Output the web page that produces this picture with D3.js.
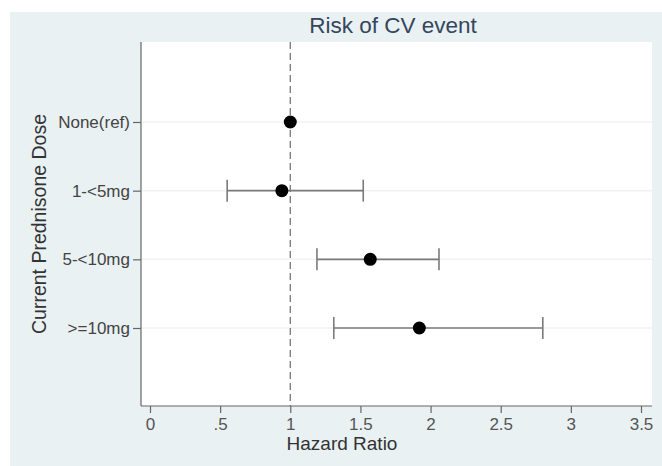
<!DOCTYPE html>
<html>
<head>
<meta charset="utf-8">
<script src="https://cdn.jsdelivr.net/npm/d3@7"></script>
<style>
  html, body { margin: 0; padding: 0; background: #ffffff; }
  svg { display: block; font-family: "Liberation Sans", Arial, sans-serif; }
</style>
</head>
<body>
<svg id="chart" width="662" height="466"></svg>
<script>
// Prednisone dose groups and hazard ratios with 95% confidence limits
const categories = ["None(ref)", "1-<5mg", "5-<10mg", ">=10mg"];
const hazardRatio = [1.0, 0.94, 1.57, 1.92];
const lowerCI = [null, 0.55, 1.19, 1.31];
const upperCI = [null, 1.52, 2.06, 2.80];
const xTickValues = [0, 0.5, 1, 1.5, 2, 2.5, 3, 3.5];
const xTickLabels = ["0", ".5", "1", "1.5", "2", "2.5", "3", "3.5"];
const referenceValue = 1;

const rows = categories.map((c, i) => ({
  cat: c, hr: hazardRatio[i], lo: lowerCI[i], hi: upperCI[i]
}));

const svg = d3.select("#chart");

// outer graph region and white plot region
const plot = { left: 141, right: 652, top: 42, bottom: 406 };

svg.append("rect")
  .attr("x", 10).attr("y", 12).attr("width", 652).attr("height", 454)
  .attr("fill", "#e9f1f3");

svg.append("rect")
  .attr("x", plot.left).attr("y", plot.top)
  .attr("width", plot.right - plot.left).attr("height", plot.bottom - plot.top)
  .attr("fill", "#ffffff");

const x = d3.scaleLinear().domain([0, 3.5]).range([150, 641]);
const y = d3.scalePoint().domain(categories).range([122, 328]).padding(0);

// faint horizontal grid at each dose group
svg.append("g")
  .selectAll("line")
  .data(categories)
  .join("line")
  .attr("x1", plot.left + 1).attr("x2", plot.right)
  .attr("y1", d => y(d)).attr("y2", d => y(d))
  .attr("stroke", "#f0f2f2").attr("stroke-width", 1.5);

// x axis
const xAxis = svg.append("g")
  .attr("transform", `translate(0,${plot.bottom})`)
  .call(d3.axisBottom(x)
    .tickValues(xTickValues)
    .tickFormat((d, i) => xTickLabels[i])
    .tickSize(7)
    .tickPadding(5)
    .tickSizeOuter(0));
xAxis.select(".domain").remove();
xAxis.selectAll(".tick line").attr("stroke", "#666").attr("stroke-width", 1.2);
xAxis.selectAll(".tick text")
  .attr("fill", "#555").attr("font-size", 17)
  .attr("font-family", "'Liberation Sans', Arial, sans-serif");

svg.append("line")
  .attr("x1", plot.left).attr("x2", plot.right)
  .attr("y1", plot.bottom).attr("y2", plot.bottom)
  .attr("stroke", "#666").attr("stroke-width", 1.2);

// y axis
const yAxis = svg.append("g")
  .attr("transform", `translate(${plot.left},0)`)
  .call(d3.axisLeft(y).tickSize(8).tickPadding(3).tickSizeOuter(0));
yAxis.select(".domain").remove();
yAxis.selectAll(".tick line").attr("stroke", "#666").attr("stroke-width", 1.2);
yAxis.selectAll(".tick text")
  .attr("fill", "#444").attr("font-size", 17)
  .attr("font-family", "'Liberation Sans', Arial, sans-serif");

svg.append("line")
  .attr("x1", plot.left).attr("x2", plot.left)
  .attr("y1", plot.top).attr("y2", plot.bottom)
  .attr("stroke", "#666").attr("stroke-width", 1.2);

// reference line at hazard ratio 1
svg.append("line")
  .attr("x1", x(referenceValue)).attr("x2", x(referenceValue))
  .attr("y1", plot.top).attr("y2", plot.bottom)
  .attr("stroke", "#777").attr("stroke-width", 1.3)
  .attr("stroke-dasharray", "7,4");

// confidence intervals
const ci = rows.filter(d => d.lo != null);
const capHalf = 11;
const bars = svg.append("g").attr("stroke", "#7a7a7a").attr("stroke-width", 1.6);
bars.selectAll("line.span")
  .data(ci).join("line")
  .attr("class", "span")
  .attr("x1", d => x(d.lo)).attr("x2", d => x(d.hi))
  .attr("y1", d => y(d.cat)).attr("y2", d => y(d.cat));
bars.selectAll("line.lo")
  .data(ci).join("line")
  .attr("class", "lo")
  .attr("x1", d => x(d.lo)).attr("x2", d => x(d.lo))
  .attr("y1", d => y(d.cat) - capHalf).attr("y2", d => y(d.cat) + capHalf);
bars.selectAll("line.hi")
  .data(ci).join("line")
  .attr("class", "hi")
  .attr("x1", d => x(d.hi)).attr("x2", d => x(d.hi))
  .attr("y1", d => y(d.cat) - capHalf).attr("y2", d => y(d.cat) + capHalf);

// point estimates
svg.append("g")
  .selectAll("circle")
  .data(rows).join("circle")
  .attr("cx", d => x(d.hr)).attr("cy", d => y(d.cat))
  .attr("r", 6.5).attr("fill", "#000");

// titles
svg.append("text")
  .attr("x", 393).attr("y", 33)
  .attr("text-anchor", "middle")
  .attr("font-size", 22.5).attr("fill", "#34465c")
  .text("Risk of CV event");

svg.append("text")
  .attr("x", 342).attr("y", 450)
  .attr("text-anchor", "middle")
  .attr("font-size", 19).attr("fill", "#333")
  .text("Hazard Ratio");

svg.append("text")
  .attr("transform", "translate(46,224) rotate(-90)")
  .attr("text-anchor", "middle")
  .attr("font-size", 19.5).attr("fill", "#333")
  .text("Current Prednisone Dose");
</script>
</body>
</html>
